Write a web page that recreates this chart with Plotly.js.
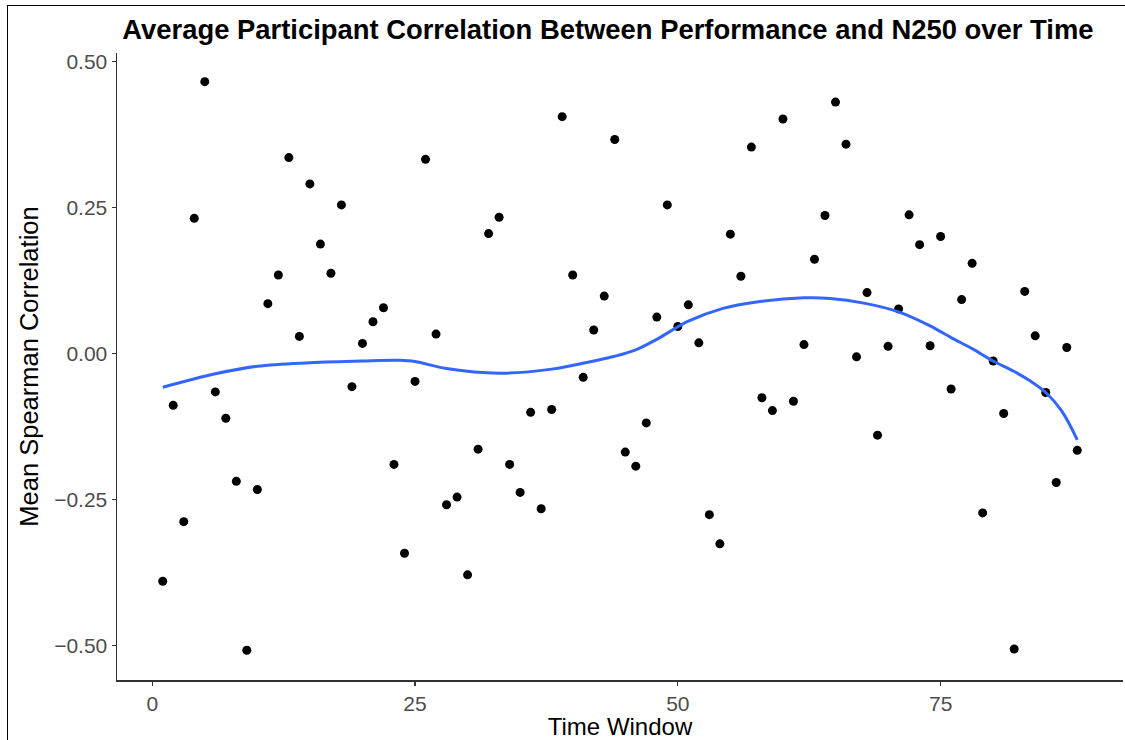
<!DOCTYPE html>
<html>
<head>
<meta charset="utf-8">
<script src="https://cdn.plot.ly/plotly-3.0.1.min.js"></script>
<style>
  html, body { margin: 0; padding: 0; background: #fff; }
  #wrap { position: relative; width: 1125px; height: 740px; overflow: hidden; }
  #chart { width: 1125px; height: 740px; }
  #frame { position: absolute; left: 7px; top: 5px; width: 1200px; height: 800px;
           border-left: 1.5px solid #000; border-top: 1.5px solid #000; pointer-events: none; }
</style>
</head>
<body>
<div id="wrap">
  <div id="chart"></div>
  <div id="frame"></div>
</div>
<script>
const timeWindow = [1,2,3,4,5,6,7,8,9,10,11,12,13,14,15,16,17,18,19,20,21,22,23,24,25,26,27,28,29,30,
  31,32,33,34,35,36,37,38,39,40,41,42,43,44,45,46,47,48,49,50,51,52,53,54,55,56,57,58,59,60,
  61,62,63,64,65,66,67,68,69,70,71,72,73,74,75,76,77,78,79,80,81,82,83,84,85,86,87,88];
const meanCorr = [-0.390,-0.089,-0.288,0.231,0.465,-0.066,-0.111,-0.219,-0.508,-0.233,
  0.085,0.134,0.335,0.029,0.290,0.187,0.137,0.254,-0.057,0.017,
  0.054,0.078,-0.190,-0.342,-0.048,0.332,0.033,-0.259,-0.246,-0.379,
  -0.164,0.205,0.233,-0.190,-0.238,-0.101,-0.266,-0.096,0.405,0.134,
  -0.041,0.040,0.098,0.366,-0.169,-0.193,-0.119,0.062,0.254,0.046,
  0.083,0.018,-0.276,-0.326,0.204,0.132,0.353,-0.076,-0.098,0.401,
  -0.082,0.015,0.161,0.236,0.430,0.358,-0.006,0.104,-0.140,0.012,
  0.076,0.237,0.186,0.013,0.200,-0.061,0.092,0.154,-0.273,-0.013,
  -0.103,-0.506,0.106,0.030,-0.067,-0.221,0.010,-0.166];

// smooth (loess) curve
const smoothX = [1,6,10,15,20,23.5,25,28,33,38,42,44,46,48,51,54.3,57.5,62,64.5,67.7,71,74,76,78,80,82,83.5,85,86.5,88];
const smoothY = [-0.058,-0.035,-0.022,-0.016,-0.013,-0.012,-0.014,-0.026,-0.034,-0.027,-0.013,-0.005,0.006,0.024,0.055,0.077,0.088,0.095,0.094,0.086,0.071,0.047,0.027,0.008,-0.013,-0.031,-0.047,-0.067,-0.098,-0.148];

const yTicks = [-0.5,-0.25,0,0.25,0.5];
const yTickText = ['\u22120.50','\u22120.25','0.00','0.25','0.50'];
const xTicks = [0,25,50,75];
const xTickText = ['0','25','50','75'];

const font = 'Liberation Sans, Arial, Helvetica, sans-serif';

const traces = [
  { x: timeWindow, y: meanCorr, type: 'scatter', mode: 'markers',
    marker: { color: '#000000', size: 9 }, hoverinfo: 'x+y' },
  { x: smoothX, y: smoothY, type: 'scatter', mode: 'lines',
    line: { color: '#3366FF', width: 3, shape: 'spline', smoothing: 1 } }
];

const layout = {
  width: 1125, height: 740,
  margin: { l: 117, r: 2, t: 53, b: 60 },
  paper_bgcolor: '#ffffff', plot_bgcolor: '#ffffff',
  showlegend: false,
  font: { family: font },
  title: { text: '<b>Average Participant Correlation Between Performance and N250 over Time</b>',
           font: { family: font, size: 27.4, color: '#000' },
           x: 0.488, xref: 'paper', xanchor: 'center', y: 0.96, yref: 'container', yanchor: 'middle' },
  xaxis: {
    range: [-3.35, 92.35], tickvals: xTicks, ticktext: xTickText,
    showgrid: false, zeroline: false, showline: true, linecolor: '#333333', linewidth: 1.5,
    ticks: 'outside', ticklen: 4, tickcolor: '#333333', tickwidth: 1.2,
    tickfont: { family: font, size: 21, color: '#4d4d4d' },
    title: { text: 'Time Window', font: { family: font, size: 24, color: '#000' }, standoff: 2 }
  },
  yaxis: {
    range: [-0.559, 0.514], tickvals: yTicks, ticktext: yTickText,
    showgrid: false, zeroline: false, showline: true, linecolor: '#333333', linewidth: 1.5,
    ticks: 'outside', ticklen: 4, tickcolor: '#333333', tickwidth: 1.2,
    tickfont: { family: font, size: 21, color: '#4d4d4d' },
    title: { text: 'Mean Spearman Correlation', font: { family: font, size: 25.5, color: '#000' }, standoff: 8 }
  }
};

Plotly.newPlot('chart', traces, layout, { displayModeBar: false, staticPlot: true });
</script>
</body>
</html>
